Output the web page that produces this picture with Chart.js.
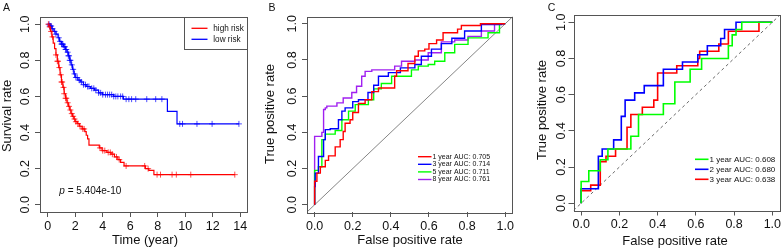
<!DOCTYPE html>
<html>
<head>
<meta charset="utf-8">
<script src="https://cdn.jsdelivr.net/npm/chart.js@4.4.1/dist/chart.umd.min.js"></script>
<style>
html, body { margin: 0; padding: 0; background: #fff; }
#wrap { position: relative; width: 784px; height: 252px; overflow: hidden; }
canvas { position: absolute; top: 0; }
</style>
</head>
<body>
<div id="wrap">
  <canvas id="cA" width="258" height="252" style="left:0px;width:258px;height:252px"></canvas>
  <canvas id="cB" width="258" height="252" style="left:258px;width:258px;height:252px"></canvas>
  <canvas id="cC" width="268" height="252" style="left:516px;width:268px;height:252px"></canvas>
</div>
<script>
'use strict';

// ---- panel A: Kaplan-Meier, survival after each event ----
const highTime = [0, 0.1, 0.2, 0.3, 0.4, 0.5, 0.6, 0.7, 0.8, 0.9, 1.0, 1.1, 1.2, 1.3, 1.4, 1.5, 1.6, 1.7, 1.8, 1.9, 2.0,
                  2.15, 2.3, 2.5, 2.7, 2.8, 2.9, 3.0, 3.75, 3.95, 4.3, 4.6, 4.85, 5.1, 5.3, 5.55, 7.1, 7.35, 7.72, 13.6];
const highSurv = [1, 0.985, 0.96, 0.93, 0.895, 0.865, 0.83, 0.795, 0.76, 0.72, 0.68, 0.65, 0.615, 0.59, 0.565, 0.545, 0.525, 0.505, 0.49, 0.475, 0.46,
                  0.45, 0.435, 0.42, 0.405, 0.385, 0.365, 0.33, 0.315, 0.30, 0.29, 0.28, 0.265, 0.25, 0.235, 0.215, 0.20, 0.19, 0.167, 0.167];
const lowTime = [0, 0.15, 0.3, 0.45, 0.6, 0.75, 0.85, 1.0, 1.15, 1.3, 1.4, 1.5, 1.6, 1.7, 1.8, 1.9, 2.0, 2.2, 2.4, 2.6, 2.8,
                 3.1, 3.4, 3.7, 4.0, 4.8, 5.5, 8.7, 9.4, 13.9];
const lowSurv = [1, 0.99, 0.975, 0.96, 0.945, 0.925, 0.905, 0.89, 0.875, 0.86, 0.845, 0.825, 0.80, 0.775, 0.75, 0.725, 0.705, 0.69, 0.68, 0.665, 0.655,
                 0.645, 0.635, 0.62, 0.61, 0.60, 0.585, 0.517, 0.448, 0.448];
const highCensor = [0.05, 0.15, 0.25, 0.35, 0.6, 0.7, 0.75, 0.85, 0.95, 1.0, 1.05, 1.15, 1.2, 1.3, 1.35, 1.45, 1.55, 1.65, 1.75, 1.85,
                    1.95, 2.05, 2.2, 2.35, 2.55, 2.65, 3.8, 4.0, 4.15, 4.4, 4.55, 4.7, 5.0, 5.2, 5.7, 7.05, 7.3, 7.95, 8.2, 9.04, 9.35, 10.4, 13.6];
const lowCensor = [0.1, 0.15, 0.2, 0.25, 0.35, 0.5, 0.6, 0.8, 0.9, 1.0, 1.05, 1.1, 1.2, 1.25, 1.3, 1.35, 1.45, 1.5, 1.55, 1.6, 1.65, 1.75,
                   1.85, 1.95, 2.05, 2.15, 2.3, 2.45, 2.6, 2.75, 2.9, 3.0, 3.2, 3.35, 3.5, 3.7, 3.85, 4.0, 4.2, 4.35, 4.5, 4.65, 4.8,
                   4.95, 5.1, 5.3, 5.45, 5.7, 5.9, 6.1, 6.4, 7.2, 7.85, 8.3, 9.6, 9.8, 10.85, 11.95, 13.9];
const timeTicks = [0, 2, 4, 6, 8, 10, 12, 14];
const rateTicks = [0, 0.2, 0.4, 0.6, 0.8, 1.0];
const riskLabels = ['high risk', 'low risk'];
const pText = '= 5.404e-10';

// ---- panel B: time-dependent ROC ----
const rocB = [
  { label: '1 year AUC: 0.705', color: '#FF0000',
    fpr: [0, 0.012, 0.03, 0.056, 0.073, 0.108, 0.134, 0.15, 0.16, 0.186, 0.2, 0.23, 0.265, 0.3, 0.335, 0.35, 0.42, 0.43, 0.49, 0.526, 0.544, 0.578, 0.6, 0.64, 0.674, 0.75, 0.77, 0.87, 1],
    tpr: [0, 0.13, 0.175, 0.21, 0.245, 0.27, 0.32, 0.36, 0.405, 0.45, 0.47, 0.51, 0.56, 0.58, 0.625, 0.645, 0.645, 0.71, 0.74, 0.78, 0.82, 0.85, 0.86, 0.89, 0.91, 0.95, 0.97, 0.99, 1] },
  { label: '3 year AUC: 0.714', color: '#0000FF',
    fpr: [0, 0.003, 0.02, 0.047, 0.056, 0.082, 0.125, 0.143, 0.16, 0.2, 0.23, 0.28, 0.31, 0.335, 0.387, 0.45, 0.526, 0.56, 0.613, 0.665, 0.72, 0.787, 0.875, 0.98, 1],
    tpr: [0, 0.1, 0.175, 0.267, 0.36, 0.415, 0.42, 0.47, 0.517, 0.535, 0.57, 0.58, 0.62, 0.66, 0.71, 0.73, 0.756, 0.775, 0.82, 0.86, 0.89, 0.92, 0.96, 0.996, 1] },
  { label: '5 year AUC: 0.711', color: '#00FF00',
    fpr: [0, 0.02, 0.038, 0.056, 0.108, 0.143, 0.178, 0.213, 0.282, 0.31, 0.35, 0.404, 0.508, 0.544, 0.596, 0.63, 0.683, 0.735, 0.805, 0.91, 0.97, 1],
    tpr: [0, 0.19, 0.21, 0.36, 0.39, 0.41, 0.47, 0.517, 0.553, 0.58, 0.64, 0.67, 0.71, 0.745, 0.766, 0.775, 0.793, 0.84, 0.886, 0.922, 0.95, 1] },
  { label: '8 year AUC: 0.761', color: '#A020F0',
    fpr: [0, 0.038, 0.047, 0.056, 0.064, 0.117, 0.15, 0.195, 0.22, 0.247, 0.265, 0.3, 0.35, 0.42, 0.456, 0.526, 0.596, 0.665, 0.735, 0.805, 0.875, 0.944, 1],
    tpr: [0, 0.378, 0.40, 0.526, 0.535, 0.545, 0.563, 0.59, 0.62, 0.655, 0.71, 0.737, 0.745, 0.745, 0.766, 0.793, 0.80, 0.84, 0.90, 0.91, 0.93, 0.96, 1] }
];

// ---- panel C: ROC ----
const rocC = [
  { label: '1 year AUC: 0.608', color: '#00FF00',
    fpr: [0, 0.04, 0.1, 0.14, 0.26, 0.3, 0.43, 0.49, 0.57, 0.63, 0.77, 0.79, 0.81, 0.84, 1],
    tpr: [0, 0.12, 0.18, 0.24, 0.30, 0.37, 0.49, 0.55, 0.67, 0.74, 0.80, 0.87, 0.93, 0.96, 1] },
  { label: '2 year AUC: 0.680', color: '#0000FF',
    fpr: [0, 0.09, 0.11, 0.17, 0.21, 0.23, 0.28, 0.33, 0.43, 0.53, 0.61, 0.66, 0.73, 0.75, 0.81, 1],
    tpr: [0, 0.08, 0.26, 0.30, 0.35, 0.48, 0.57, 0.61, 0.65, 0.74, 0.78, 0.82, 0.87, 0.91, 0.96, 1] },
  { label: '3 year AUC: 0.638', color: '#FF0000',
    fpr: [0, 0.05, 0.1, 0.13, 0.18, 0.24, 0.26, 0.32, 0.38, 0.40, 0.50, 0.61, 0.62, 0.72, 0.77, 0.93, 1],
    tpr: [0, 0.07, 0.10, 0.23, 0.26, 0.30, 0.42, 0.49, 0.53, 0.57, 0.72, 0.76, 0.80, 0.84, 0.88, 0.95, 1] }
];
const fprTicks = [0, 0.2, 0.4, 0.6, 0.8, 1.0];

const FONT = '"Liberation Sans", Arial, Helvetica, sans-serif';
const AXIS = '#555555';
const INK = '#111111';
const TICK_SIZE = 12.5;

function toXY(xs, ys) {
  return xs.map((x, i) => ({ x: x, y: ys[i] }));
}

// survival value at a censoring time = value after the last event before it
function censorXY(times, evTime, evSurv) {
  return times.map(t => {
    let s = evSurv[0];
    for (let i = 0; i < evTime.length; i++) {
      if (evTime[i] <= t) s = evSurv[i];
    }
    return { x: t, y: s };
  });
}

function axisOpts(lo, hi, tickVals, fmt, fixed, isX, tickPad) {
  return {
    type: 'linear',
    min: lo - (hi - lo) * 0.04,
    max: hi + (hi - lo) * 0.04,
    afterBuildTicks: s => { s.ticks = tickVals.map(v => ({ value: v })); },
    afterFit: s => { if (isX) s.height = fixed; else s.width = fixed; },
    grid: { drawOnChartArea: false, drawTicks: true, tickLength: 5, color: AXIS, lineWidth: 1 },
    border: { display: false },
    ticks: {
      display: isX,
      autoSkip: false,
      maxRotation: 0,
      padding: tickPad,
      color: INK,
      font: { family: FONT, size: TICK_SIZE },
      callback: v => fmt(v)
    }
  };
}

// box, rotated y tick labels, axis titles, panel letter and legend, R style
function rPanel(p) {
  return {
    id: 'rPanel' + p.letter,
    afterDraw(chart) {
      const ctx = chart.ctx;
      const a = chart.chartArea;
      const ys = chart.scales.y;
      const off = p.left;
      ctx.save();
      ctx.translate(-off, 0);
      ctx.strokeStyle = AXIS;
      ctx.lineWidth = 1;
      ctx.strokeRect(Math.round(a.left + off) + 0.5, Math.round(a.top) + 0.5,
                     Math.round(a.right - a.left) - 1, Math.round(a.bottom - a.top));

      ctx.fillStyle = INK;
      ctx.font = TICK_SIZE + 'px ' + FONT;
      ctx.textAlign = 'center';
      ctx.textBaseline = 'middle';
      ys.ticks.forEach(t => {
        const y = ys.getPixelForValue(t.value);
        ctx.save();
        ctx.translate(p.yLabX, y);
        ctx.rotate(-Math.PI / 2);
        ctx.fillText(t.value.toFixed(1), 0, 0);
        ctx.restore();
      });

      ctx.font = '13px ' + FONT;
      ctx.save();
      ctx.translate(p.yTitleX, p.yTitleY);
      ctx.rotate(-Math.PI / 2);
      ctx.fillText(p.yTitle, 0, 0);
      ctx.restore();
      ctx.textBaseline = 'alphabetic';
      ctx.fillText(p.xTitle, p.xTitleX, p.xTitleBase);

      ctx.font = '10.5px ' + FONT;
      ctx.fillText(p.letter, p.letterX, 10.5);

      if (p.legend) p.legend(ctx, chart);
      ctx.restore();
    }
  };
}

function makeChart(id, datasets, scales, pad, plugin) {
  return new Chart(document.getElementById(id), {
    type: 'scatter',
    data: { datasets: datasets },
    options: {
      responsive: false,
      animation: false,
      layout: { padding: pad },
      plugins: { legend: { display: false }, tooltip: { enabled: false } },
      scales: scales
    },
    plugins: [plugin]
  });
}

// ---- A ----
makeChart('cA', [
  { data: toXY(highTime, highSurv), showLine: true, stepped: 'before', borderColor: '#FF0000', borderWidth: 1.2, pointRadius: 0 },
  { data: toXY(lowTime, lowSurv), showLine: true, stepped: 'before', borderColor: '#0000FF', borderWidth: 1.2, pointRadius: 0 },
  { data: censorXY(highCensor, highTime, highSurv), pointStyle: 'cross', pointRadius: 3, borderWidth: 1, borderColor: 'rgba(255,0,0,0.7)' },
  { data: censorXY(lowCensor, lowTime, lowSurv), pointStyle: 'cross', pointRadius: 3, borderWidth: 1, borderColor: 'rgba(0,0,255,0.7)' }
], {
  x: axisOpts(0, 14, timeTicks, v => String(v), 40, true, 2),
  y: axisOpts(0, 1, rateTicks, v => v.toFixed(1), 40, false, 0)
}, { left: 0, right: 10, top: 17, bottom: 0 }, rPanel({
  letter: 'A', left: 0, letterX: 6.5, yLabX: 26, yTitle: 'Survival rate', yTitleX: 7.5, yTitleY: 116,
  xTitle: 'Time (year)', xTitleX: 145, xTitleBase: 243.5,
  legend: (ctx, chart) => {
    ctx.fillStyle = '#fff';
    ctx.strokeStyle = AXIS;
    ctx.fillRect(184.5, 17.5, 63, 32);
    ctx.strokeRect(184.5, 17.5, 63, 32);
    const cols = ['#FF0000', '#0000FF'];
    const rows = [28.3, 39.3];
    ctx.font = '8.2px ' + FONT;
    ctx.textAlign = 'left';
    ctx.textBaseline = 'middle';
    riskLabels.forEach((lab, i) => {
      ctx.strokeStyle = cols[i];
      ctx.lineWidth = 1.3;
      ctx.beginPath();
      ctx.moveTo(191.5, rows[i]);
      ctx.lineTo(207.5, rows[i]);
      ctx.stroke();
      ctx.fillStyle = INK;
      ctx.fillText(lab, 213.3, rows[i]);
    });
    ctx.font = 'italic 10px ' + FONT;
    ctx.fillText('p', 59.3, 191);
    const w = ctx.measureText('p ').width;
    ctx.font = '10px ' + FONT;
    ctx.fillText(pText, 59.3 + w, 191);
  }
}));

// ---- B ----
const dsB = rocB.map(r => ({
  data: toXY(r.fpr, r.tpr), showLine: true, stepped: 'after', borderColor: r.color, borderWidth: 1.4, pointRadius: 0
}));
dsB.push({ data: toXY([-0.04, 1.04], [-0.04, 1.04]), showLine: true, borderColor: '#666666', borderWidth: 0.8, pointRadius: 0 });
makeChart('cB', dsB, {
  x: axisOpts(0, 1, fprTicks, v => v.toFixed(1), 40, true, 2),
  y: axisOpts(0, 1, rateTicks, v => v.toFixed(1), 49, false, 0)
}, { left: 0, right: 3, top: 16.5, bottom: 0 }, rPanel({
  letter: 'B', left: 258, letterX: 272, yLabX: 293, yTitle: 'True positive rate', yTitleX: 270, yTitleY: 114,
  xTitle: 'False positive rate', xTitleX: 410, xTitleBase: 243.5,
  legend: (ctx) => {
    ctx.font = '7px ' + FONT;
    ctx.textAlign = 'left';
    ctx.textBaseline = 'middle';
    rocB.forEach((r, i) => {
      const y = 156.7 + i * 7.6;
      ctx.strokeStyle = r.color;
      ctx.lineWidth = 1.4;
      ctx.beginPath();
      ctx.moveTo(418, y);
      ctx.lineTo(431.5, y);
      ctx.stroke();
      ctx.fillStyle = INK;
      ctx.fillText(r.label, 432.5, y);
    });
  }
}));

// ---- C ----
const dsC = rocC.map(r => ({
  data: toXY(r.fpr, r.tpr), showLine: true, stepped: 'after', borderColor: r.color, borderWidth: 1.6, pointRadius: 0
}));
dsC.push({ data: toXY([-0.04, 1.04], [-0.04, 1.04]), showLine: true, borderColor: '#444444', borderWidth: 0.8, borderDash: [3, 3], pointRadius: 0 });
makeChart('cC', dsC, {
  x: axisOpts(0, 1, fprTicks, v => v.toFixed(1), 41.5, true, 2),
  y: axisOpts(0, 1, rateTicks, v => v.toFixed(1), 57.5, false, 0)
}, { left: 0, right: 4, top: 15, bottom: 0 }, rPanel({
  letter: 'C', left: 516, letterX: 551.5, yLabX: 561.5, yTitle: 'True positive rate', yTitleX: 542, yTitleY: 110,
  xTitle: 'False positive rate', xTitleX: 675, xTitleBase: 245,
  legend: (ctx) => {
    ctx.font = '8px ' + FONT;
    ctx.textAlign = 'left';
    ctx.textBaseline = 'middle';
    rocC.forEach((r, i) => {
      const y = 159.3 + i * 10;
      ctx.strokeStyle = r.color;
      ctx.lineWidth = 1.6;
      ctx.beginPath();
      ctx.moveTo(695, y);
      ctx.lineTo(708.5, y);
      ctx.stroke();
      ctx.fillStyle = INK;
      ctx.fillText(r.label, 709.5, y);
    });
  }
}));
</script>
</body>
</html>
